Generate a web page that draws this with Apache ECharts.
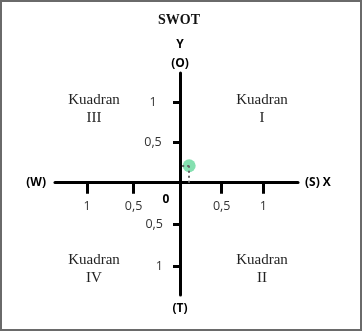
<!DOCTYPE html>
<html>
<head>
<meta charset="utf-8">
<script src="https://cdn.jsdelivr.net/npm/echarts@6/dist/echarts.min.js"></script>
<style>
html,body{margin:0;padding:0;background:#fff;}
#chart{width:362px;height:331px;}
</style>
</head>
<body>
<div id="chart"></div>
<script>
// ---- data ----
const chartTitle = 'SWOT';
const tickValues = [0.5, 1];
const tickLabels = ['0,5', '1'];
const pointX = [0.11];
const pointY = [0.21];
const quadrantNames = ['Kuadran\nI', 'Kuadran\nII', 'Kuadran\nIII', 'Kuadran\nIV'];
const axisNames = { left: '(W)', right: '(S) X', top: 'Y\n(O)', bottom: '(T)', origin: '0' };

// ---- styles ----
const SANS = '"Open Sans", sans-serif';
const SERIF = '"Liberation Serif", serif';
const fmt = v => { const i = tickValues.indexOf(v); return i >= 0 ? tickLabels[i] : ''; };
const lineStyle = { color: '#000', width: 3 };
const tickStyle = { color: '#000', width: 3 };
const labelStyle = { color: '#333', fontSize: 12.5, fontFamily: SANS };
const nameStyle = { color: '#000', fontSize: 12, fontWeight: 'bold', fontFamily: SANS };

const chart = echarts.init(document.getElementById('chart'), null, { renderer: 'canvas' });

const AX_Y = 182.7, AX_X = 180;
const option = {
  animation: false,
  backgroundColor: '#fff',
  grid: [
    { left: 55, top: 73, width: AX_X - 55, height: AX_Y - 73 },          // top-left
    { left: AX_X, top: 73, width: 298 - AX_X, height: AX_Y - 73 },        // top-right
    { left: AX_X, top: AX_Y, width: 298 - AX_X, height: 295 - AX_Y }      // bottom-right
  ],
  xAxis: [
    { gridIndex: 0, type: 'value', inverse: true, min: 0, max: 1.3455, position: 'bottom',
      axisLine: { show: true, onZero: false, lineStyle },
      axisTick: { show: true, length: 11, lineStyle: tickStyle, customValues: tickValues },
      axisLabel: { show: true, margin: 17, formatter: fmt, customValues: tickValues, ...labelStyle },
      splitLine: { show: false },
      name: axisNames.left, nameLocation: 'end', nameGap: 9, nameTextStyle: nameStyle },
    { gridIndex: 1, type: 'value', min: 0, max: 1.415, position: 'bottom',
      axisLine: { show: true, onZero: false, lineStyle },
      axisTick: { show: true, length: 11, lineStyle: tickStyle, customValues: tickValues },
      axisLabel: { show: true, margin: 17, formatter: fmt, customValues: tickValues, ...labelStyle },
      splitLine: { show: false },
      name: axisNames.right, nameLocation: 'end', nameGap: 7, nameTextStyle: nameStyle },
    { gridIndex: 2, type: 'value', min: 0, max: 1.415, show: false }
  ],
  yAxis: [
    { gridIndex: 0, type: 'value', min: 0, max: 1.359, show: false },
    { gridIndex: 1, type: 'value', min: 0, max: 1.359, position: 'left',
      axisLine: { show: true, onZero: false, lineStyle },
      axisTick: { show: true, length: 7, lineStyle: tickStyle, customValues: tickValues },
      axisLabel: { show: true, margin: 27, align: 'center', formatter: fmt, customValues: tickValues, ...labelStyle },
      splitLine: { show: false },
      name: axisNames.top, nameLocation: 'end', nameGap: 0, nameTextStyle: { ...nameStyle, lineHeight: 19 } },
    { gridIndex: 2, type: 'value', inverse: true, min: 0, max: 1.34, position: 'left',
      axisLine: { show: true, onZero: false, lineStyle },
      axisTick: { show: true, length: 7, lineStyle: tickStyle, customValues: tickValues },
      axisLabel: { show: true, margin: 17, align: 'right', formatter: fmt, customValues: tickValues, ...labelStyle },
      splitLine: { show: false },
      name: axisNames.bottom, nameLocation: 'end', nameGap: 8, nameTextStyle: nameStyle }
  ],
  series: [
    { type: 'scatter', xAxisIndex: 1, yAxisIndex: 1, z: 3,
      data: pointX.map((x, i) => [x, pointY[i]]),
      symbolSize: 13,
      itemStyle: { color: '#6fdba2', opacity: 0.85 },
      markLine: {
        silent: true, symbol: 'none', label: { show: false }, z: 4,
        lineStyle: { type: [2, 3], color: '#666', width: 2 },
        data: pointX.flatMap((x, i) => [
          [{ coord: [x, pointY[i]] }, { coord: [x, 0] }],
          [{ coord: [x, pointY[i]] }, { coord: [0, pointY[i]] }]
        ])
      }
    }
  ],
  graphic: [
    { type: 'rect', shape: { x: 1, y: 1, width: 360, height: 329 }, style: { fill: 'none', stroke: '#6a6a6a', lineWidth: 2 }, silent: true },
    { type: 'text', x: 179, y: 20, style: { text: chartTitle, font: 'bold 14px ' + SERIF, fill: '#111', align: 'center', verticalAlign: 'middle' } },
    { type: 'text', x: 262, y: 109.5, style: { text: quadrantNames[0], font: '15px ' + SERIF, fill: '#222', align: 'center', verticalAlign: 'middle', lineHeight: 18 } },
    { type: 'text', x: 262, y: 269.5, style: { text: quadrantNames[1], font: '15px ' + SERIF, fill: '#222', align: 'center', verticalAlign: 'middle', lineHeight: 18 } },
    { type: 'text', x: 94, y: 109.5, style: { text: quadrantNames[2], font: '15px ' + SERIF, fill: '#222', align: 'center', verticalAlign: 'middle', lineHeight: 18 } },
    { type: 'text', x: 94, y: 269.5, style: { text: quadrantNames[3], font: '15px ' + SERIF, fill: '#222', align: 'center', verticalAlign: 'middle', lineHeight: 18 } },
    { type: 'text', x: 166, y: 200, style: { text: axisNames.origin, font: 'bold 12px ' + SANS, fill: '#000', align: 'center', verticalAlign: 'middle' } }
  ]
};
chart.setOption(option);
</script>
</body>
</html>
